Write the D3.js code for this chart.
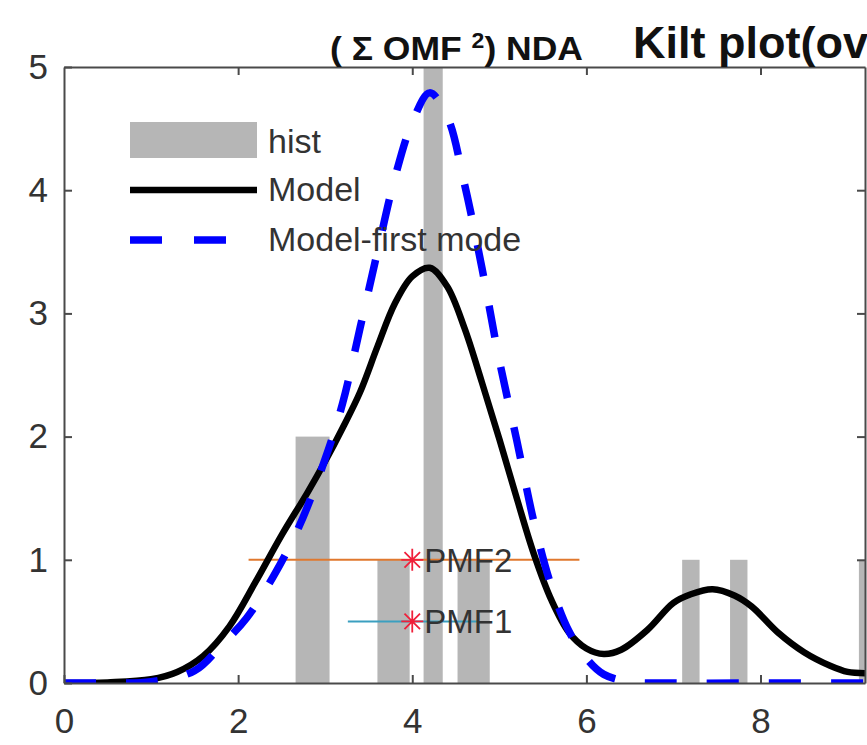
<!DOCTYPE html>
<html>
<head>
<meta charset="utf-8">
<script src="https://cdn.jsdelivr.net/npm/d3@7"></script>
<style>
  html, body { margin: 0; padding: 0; background: #fff; overflow: hidden; }
  svg { display: block; font-family: "Liberation Sans", Arial, Helvetica, sans-serif; }
</style>
</head>
<body>
<div id="chart"></div>
<script>
// histogram bins (data units) and counts
const histLeft  = [2.66, 3.60, 4.13, 4.52, 7.10, 7.65, 9.13];
const histRight = [3.05, 3.97, 4.35, 4.89, 7.30, 7.85, 9.33];
const histCount = [2, 1, 5, 1, 1, 1, 1];

// Model curve samples
const modelX = [0, 0.5, 1.0, 1.3, 1.6, 1.9, 2.2, 2.5, 2.8, 3.0, 3.2, 3.4, 3.6, 3.8, 4.0, 4.2, 4.4, 4.6, 4.8, 5.0, 5.2, 5.4, 5.6, 5.8, 6.0, 6.2, 6.4, 6.7, 7.0, 7.2, 7.45, 7.7, 7.9, 8.2, 8.5, 8.8, 9.0, 9.2];
const modelY = [0, 0.005, 0.03, 0.09, 0.22, 0.46, 0.82, 1.2, 1.55, 1.8, 2.07, 2.36, 2.73, 3.08, 3.3, 3.37, 3.22, 2.88, 2.44, 1.98, 1.5, 1.04, 0.67, 0.41, 0.28, 0.235, 0.27, 0.43, 0.65, 0.72, 0.76, 0.71, 0.62, 0.41, 0.25, 0.14, 0.09, 0.08];

// Model - first mode samples
const firstX = [0, 0.5, 1.0, 1.5, 1.8, 2.1, 2.4, 2.7, 3.0, 3.2, 3.4, 3.6, 3.8, 4.0, 4.2, 4.4, 4.6, 4.8, 5.0, 5.2, 5.4, 5.6, 5.8, 6.0, 6.2, 6.5, 7.0, 8.0, 9.2];
const firstY = [0, 0, 0.01, 0.1, 0.3, 0.53, 0.86, 1.27, 1.82, 2.27, 2.88, 3.5, 4.1, 4.55, 4.79, 4.6, 4.05, 3.37, 2.62, 1.97, 1.3, 0.78, 0.42, 0.2, 0.07, 0.01, 0, 0, 0];

// PMF markers
const pmfNames  = ['PMF1', 'PMF2'];
const pmfCenter = [4.0, 4.0];
const pmfLevel  = [0.5, 1.0];
const pmfLow    = [3.26, 2.12];
const pmfHigh   = [4.74, 5.92];
const pmfColors = ['#3b9fc0', '#e0782e'];

const xTicks = [0, 2, 4, 6, 8];
const yTicks = [0, 1, 2, 3, 4, 5];
const legendLabels = ['hist', 'Model', 'Model-first mode'];

const width = 867, height = 745;
const plot = { left: 64, right: 865, top: 67, bottom: 683 };
const txtColor = '#333';

const svg = d3.select('#chart').append('svg')
    .attr('width', width)
    .attr('height', height);

const x = d3.scaleLinear().domain([0, 9.2]).range([plot.left, plot.right]);
const y = d3.scaleLinear().domain([0, 5]).range([plot.bottom, plot.top]);

svg.append('clipPath').attr('id', 'clip')
  .append('rect')
    .attr('x', plot.left).attr('y', plot.top)
    .attr('width', plot.right - plot.left).attr('height', plot.bottom - plot.top);

const g = svg.append('g').attr('clip-path', 'url(#clip)');

// bars
g.selectAll('rect.bar')
  .data(histCount)
  .join('rect')
    .attr('class', 'bar')
    .attr('x', (d, i) => x(histLeft[i]))
    .attr('width', (d, i) => x(histRight[i]) - x(histLeft[i]))
    .attr('y', d => y(d))
    .attr('height', d => y(0) - y(d))
    .attr('fill', '#b6b6b6');

// PMF horizontal lines
g.selectAll('line.pmf')
  .data(pmfNames)
  .join('line')
    .attr('class', 'pmf')
    .attr('x1', (d, i) => x(pmfLow[i]))
    .attr('x2', (d, i) => x(pmfHigh[i]))
    .attr('y1', (d, i) => y(pmfLevel[i]))
    .attr('y2', (d, i) => y(pmfLevel[i]))
    .attr('stroke', (d, i) => pmfColors[i])
    .attr('stroke-width', 2);

const line = d3.line().curve(d3.curveCatmullRom.alpha(0.5));

g.append('path')
    .attr('d', line(modelX.map((v, i) => [x(v), y(modelY[i])])))
    .attr('fill', 'none')
    .attr('stroke', '#000')
    .attr('stroke-width', 6.5);

g.append('path')
    .attr('d', line(firstX.map((v, i) => [x(v), y(firstY[i])])))
    .attr('fill', 'none')
    .attr('stroke', '#0000ff')
    .attr('stroke-width', 7.5)
    .attr('stroke-dasharray', '32,30');

// asterisk markers (plus + cross)
function asterisk(cx, cy, r) {
  const p = d3.path();
  const k = r * Math.SQRT1_2;
  p.moveTo(cx - r, cy); p.lineTo(cx + r, cy);
  p.moveTo(cx, cy - r); p.lineTo(cx, cy + r);
  p.moveTo(cx - k, cy - k); p.lineTo(cx + k, cy + k);
  p.moveTo(cx - k, cy + k); p.lineTo(cx + k, cy - k);
  return p.toString();
}

svg.selectAll('path.star')
  .data(pmfNames)
  .join('path')
    .attr('class', 'star')
    .attr('d', (d, i) => asterisk(x(pmfCenter[i]), y(pmfLevel[i]), 11))
    .attr('stroke', '#f0203a')
    .attr('stroke-width', 1.8)
    .attr('fill', 'none');

svg.selectAll('text.pmf')
  .data(pmfNames)
  .join('text')
    .attr('class', 'pmf')
    .attr('x', (d, i) => x(pmfCenter[i]) + 12)
    .attr('y', (d, i) => y(pmfLevel[i]) + 12)
    .attr('font-size', 33)
    .attr('fill', txtColor)
    .text(d => d);

// axes (MATLAB style box with inward ticks)
const axisStyle = sel => {
  sel.select('.domain').attr('stroke', '#4a4a4a').attr('stroke-width', 2);
  sel.selectAll('.tick line').attr('stroke', '#4a4a4a').attr('stroke-width', 2);
  sel.selectAll('.tick text').attr('fill', txtColor).attr('font-size', 35)
     .attr('font-family', '"Liberation Sans", Arial, sans-serif');
};

svg.append('g')
    .attr('transform', `translate(0,${plot.bottom})`)
    .call(d3.axisBottom(x).tickValues(xTicks).tickFormat(d3.format('d'))
      .tickSizeInner(-8).tickSizeOuter(0).tickPadding(25))
    .call(axisStyle);

svg.append('g')
    .attr('transform', `translate(0,${plot.top})`)
    .call(d3.axisTop(x).tickValues(xTicks.filter(v => v > 0)).tickSizeInner(-8).tickSizeOuter(0).tickFormat(''))
    .call(axisStyle);

svg.append('g')
    .attr('transform', `translate(${plot.left},0)`)
    .call(d3.axisLeft(y).tickValues(yTicks).tickFormat(d3.format('d'))
      .tickSizeInner(-8).tickSizeOuter(0).tickPadding(16))
    .call(axisStyle);

svg.append('g')
    .attr('transform', `translate(${plot.right},0)`)
    .call(d3.axisRight(y).tickValues(yTicks.slice(1, -1)).tickSizeInner(-8).tickSizeOuter(0).tickFormat(''))
    .call(axisStyle);

// legend
const leg = svg.append('g').attr('transform', 'translate(130,0)');
leg.append('rect').attr('x', 0).attr('y', 122).attr('width', 127).attr('height', 36).attr('fill', '#b6b6b6');
leg.append('line').attr('x1', 0).attr('x2', 127).attr('y1', 190).attr('y2', 190)
    .attr('stroke', '#000').attr('stroke-width', 6.5);
leg.append('line').attr('x1', 0).attr('x2', 127).attr('y1', 240).attr('y2', 240)
    .attr('stroke', '#0000ff').attr('stroke-width', 7.5).attr('stroke-dasharray', '32,32');
leg.selectAll('text')
  .data(legendLabels)
  .join('text')
    .attr('x', 138)
    .attr('y', (d, i) => [153, 201, 251][i])
    .attr('font-size', 34)
    .attr('fill', txtColor)
    .text(d => d);

// titles
const t1 = svg.append('text')
    .attr('x', 330).attr('y', 60)
    .attr('font-size', 34).attr('font-weight', 'bold').attr('fill', '#111')
    .attr('textLength', 253).attr('lengthAdjust', 'spacingAndGlyphs');
t1.append('tspan').text('( \u03A3 OMF ');
t1.append('tspan').attr('dy', -12).attr('font-size', 22).text('2');
t1.append('tspan').attr('dy', 12).text(') NDA');

svg.append('text')
    .attr('x', 633).attr('y', 58)
    .attr('font-size', 45).attr('font-weight', 'bold').attr('fill', '#111')
    .text('Kilt plot(ov');
</script>
</body>
</html>
